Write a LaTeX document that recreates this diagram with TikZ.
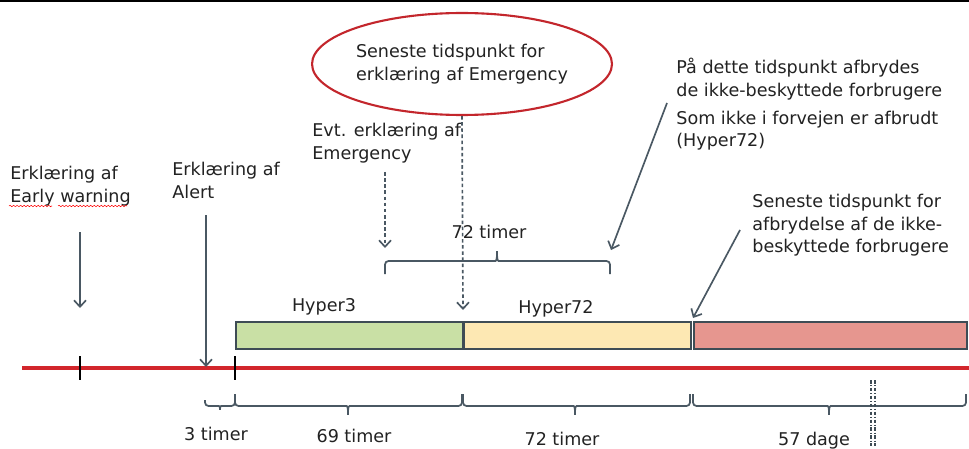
\documentclass[tikz,border=0pt]{standalone}
\usepackage{fontspec}
\setmainfont{DejaVu Sans}
\usetikzlibrary{shapes.geometric,arrows.meta,decorations.pathmorphing}

\definecolor{linegray}{HTML}{4A5863}
\definecolor{bardark}{HTML}{3E4C55}
\definecolor{textdark}{HTML}{222222}
\definecolor{ellred}{HTML}{C3262C}
\definecolor{timered}{HTML}{D2262C}
\definecolor{hypgreen}{HTML}{C9E0A5}
\definecolor{hypyellow}{HTML}{FDE8B3}
\definecolor{hypred}{HTML}{E6968F}

\tikzset{
  txt/.style={inner sep=0pt, align=left, anchor=north west, text=textdark,
    font=\fontsize{10}{12.8}\selectfont},
  lbl/.style={inner sep=0pt, anchor=base, text=textdark, font=\fontsize{10}{12}\selectfont},
  pointer/.style={linegray, line width=0.95pt, -{Straight Barb[length=1.3mm,width=2.4mm]}},
  dpointer/.style={pointer, dash pattern=on 2pt off 1.5pt},
  bar/.style={draw=bardark, line width=1pt, minimum height=0.54cm, inner sep=0pt, anchor=north west},
  braceline/.style={linegray, line width=1pt, rounded corners=2pt},
  squiggle/.style={red, line width=0.3pt, decorate, decoration={snake, amplitude=0.4pt, segment length=2pt}},
  dotbreak/.style={bardark, line width=0.6pt, dash pattern=on 2pt off 1pt on 0.5pt off 1pt},
}

% brace: left x, right x, tip x, end y, line y, tip y
\newcommand{\timebrace}[6]{%
  \draw[braceline] (#1,#4) -- (#1,#5) -- (#3-5,#5)
    .. controls (#3-1,#5) and (#3,#5) .. (#3,#6)
    .. controls (#3,#5) and (#3+1,#5) .. (#3+5,#5) -- (#2,#5) -- (#2,#4);}

\begin{document}
\begin{tikzpicture}[x=0.02cm, y=-0.02cm]
\useasboundingbox (0,0) rectangle (969,449);

% rule along the top
\draw[line width=1.2pt, black] (0,1) -- (969,1);

% the three periods
\node[bar, fill=hypgreen, minimum width=4.54cm] (h3) at (235,321) {};
\node[bar, fill=hypyellow, minimum width=4.54cm] (h72) at (463,321) {};
\node[bar, fill=hypred, minimum width=5.46cm] (hrest) at (693,321) {};
\node[lbl] (h3lbl) at (324,311) {Hyper3};
\node[lbl] (h72lbl) at (556,313) {Hyper72};

% time line and ticks
\coordinate (t0) at (22,368);
\coordinate (t1) at (969,368);
\draw[timered, line width=1.9pt] (t0) -- (t1);
\draw[black, line width=1.1pt] (80,356) -- (80,380);
\draw[black, line width=1.6pt] (235,356) -- (235,380);

% declarations
\node[txt] (early) at (10,166) {Erklæring af\\Early warning};
\draw[squiggle] (9,206) -- (52,206);
\draw[squiggle] (58,206) -- (127,206);
\node[txt] (alert) at (172,162) {Erklæring af\\Alert};
\node[txt] (evt) at (312,123) {Evt. erklæring af\\Emergency};
\node[ellipse, draw=ellred, line width=1.2pt, minimum width=6cm, minimum height=2.04cm,
  inner sep=0pt, align=left, text=textdark, font=\fontsize{10}{12.8}\selectfont]
  (latest) at (462,64) {Seneste tidspunkt for\\erklæring af Emergency};
\node[txt] (cut) at (676,58) {På dette tidspunkt afbrydes\\de ikke-beskyttede forbrugere\\[3pt]Som ikke i forvejen er afbrudt\\(Hyper72)};
\node[txt] (cutlast) at (752,194) {Seneste tidspunkt for\\afbrydelse af de ikke-\\beskyttede forbrugere};

% pointers
\coordinate (e0) at (80,232);
\coordinate (e1) at (80,308);
\coordinate (a0) at (206,215);
\coordinate (a1) at (206,367);
\coordinate (v0) at (385,172);
\coordinate (v1) at (385,248);
\coordinate (l1) at (463,310);
\coordinate (c0) at (667,103);
\coordinate (c1) at (611,250);
\coordinate (s0) at (740,230);
\coordinate (s1) at (693,318);
\draw[pointer] (e0) -- (e1);
\draw[pointer] (a0) -- (a1);
\draw[dpointer] (v0) -- (v1);
\draw[dpointer] (latest.south) -- (l1);
\draw[pointer] (c0) -- (c1);
\draw[pointer] (s0) -- (s1);

% 72 hours window
\timebrace{385}{610}{497}{274}{261}{249}
\node[lbl] (w72) at (489,238) {72 timer};

% durations below the line
\timebrace{205}{235}{220}{400}{406}{412}
\timebrace{235}{462}{348}{394}{406}{417}
\timebrace{463}{690}{575}{394}{406}{417}
\timebrace{693}{966}{829}{394}{406}{417}
\draw[dotbreak] (871,380) -- (871,446);
\draw[dotbreak] (875,380) -- (875,446);
\node[lbl] (d3) at (216,440) {3 timer};
\node[lbl] (d69) at (354,442) {69 timer};
\node[lbl] (d72) at (562,445) {72 timer};
\node[lbl] (d57) at (814,445) {57 dage};
\end{tikzpicture}
\end{document}
